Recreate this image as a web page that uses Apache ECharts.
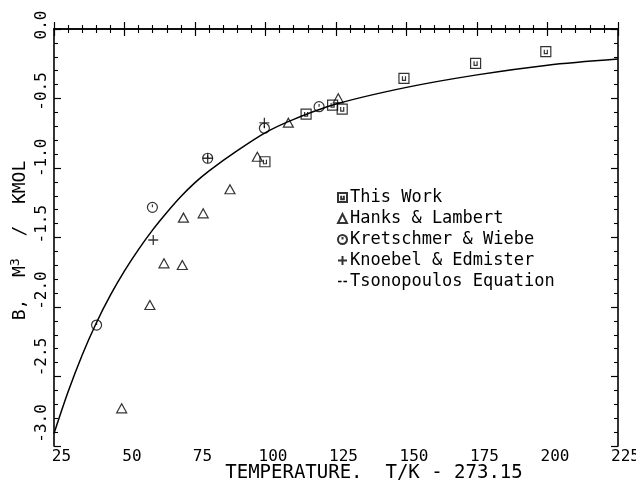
<!DOCTYPE html>
<html><head><meta charset="utf-8">
<script src="https://cdn.jsdelivr.net/npm/echarts@6/dist/echarts.min.js"></script>
<style>html,body{margin:0;padding:0;background:#fff}#c{width:636px;height:483px}</style>
</head><body><div id="c"></div>
<script>
// ---- data ----
const thisWorkT = [99.8, 114.4, 123.8, 127.2, 149.1, 174.5, 199.4];
const thisWorkB = [-0.955, -0.612, -0.547, -0.576, -0.355, -0.247, -0.163];

const hanksT = [49.0, 59.0, 64.0, 70.5, 70.9, 77.9, 87.4, 97.1, 108.1, 125.8];
const hanksB = [-2.729, -1.986, -1.686, -1.698, -1.357, -1.326, -1.153, -0.919, -0.674, -0.499];

const kretT = [40.1, 59.9, 79.5, 99.6, 119.0];
const kretB = [-2.13, -1.283, -0.93, -0.714, -0.559];

const knoeT = [60.2, 79.5, 99.6];
const knoeB = [-1.518, -0.93, -0.675];

const curveT = [25, 30, 35, 40, 45, 50, 55, 60, 65, 70, 75, 80, 90, 100, 110, 125, 150, 175, 200, 225];
const curveB = [-2.91, -2.61, -2.345, -2.115, -1.915, -1.74, -1.585, -1.445, -1.32, -1.205, -1.105, -1.02, -0.875, -0.745, -0.65, -0.54, -0.42, -0.33, -0.26, -0.216];

const xTicks = [25, 50, 75, 100, 125, 150, 175, 200, 225];
const yTicks = [0.0, -0.5, -1.0, -1.5, -2.0, -2.5, -3.0];
const seriesNames = ['This Work', 'Hanks & Lambert', 'Kretschmer & Wiebe', 'Knoebel & Edmister', 'Tsonopoulos Equation'];
const xTitle = 'TEMPERATURE.  T/K - 273.15';

// ---- build ----
const pairs = (a, b) => a.map((v, i) => [v, b[i]]);
const FONT = 'DejaVu Sans Mono';
const sqPath = 'path://M0,0H10V10H0Z M3.5,3V7H6.5V3';
const circPath = 'path://M5,0A5,5 0 1 1 4.99,0Z M5,2.2V5';
const plusPath = 'path://M5,0V10M0,5H10';
const dashPath = 'path://M0,4.3H4V5.7H0Z M6,4.3H10V5.7H6Z';
const open = {color: 'transparent', borderColor: '#000', borderWidth: 1.2};

// y tick labels drift upward in the scanned original; per-label rich styles reproduce it
const yRich = {};
yTicks.forEach((t, i) => {
  yRich['p' + i] = {fontFamily: 'DejaVu Sans Mono', fontSize: 16, color: '#000', padding: [0, 0, 0, 2 * (4 + i * 3.1)]};
});

const chart = echarts.init(document.getElementById('c'), null, {renderer: 'canvas'});
const axisCommon = {
  axisLine: {show: true, lineStyle: {color: '#000', width: 1.6}},
  axisTick: {show: true, inside: true, length: 7, lineStyle: {color: '#000', width: 1.2}},
  minorTick: {show: true, splitNumber: 5, length: 4, lineStyle: {color: '#000', width: 1.1}},
  splitLine: {show: false}
};
chart.setOption({
  animation: false,
  backgroundColor: '#fff',
  grid: {left: 54, right: 18, top: 29, bottom: 37, containLabel: false, outerBoundsMode: 'none'},
  xAxis: [
    Object.assign({type: 'value', min: 25, max: 225, interval: 25, position: 'bottom',
      axisLabel: {show: true, margin: 3, color: '#000', fontFamily: FONT, fontSize: 16,
        padding: [0, 0, 0, 15],
        formatter: v => xTicks.includes(v) ? String(v) : ''},
      name: xTitle, nameLocation: 'middle', nameGap: 18, nameMoveOverlap: false,
      nameTextStyle: {color: '#000', fontFamily: FONT, fontSize: 19, padding: [0, 0, 0, 76]}
    }, axisCommon),
    Object.assign({type: 'value', min: 25, max: 225, interval: 25, position: 'top',
      axisLabel: {show: false}}, axisCommon)
  ],
  yAxis: [
    Object.assign({type: 'value', min: -3.0, max: 0.0, interval: 0.5, position: 'left',
      axisLabel: {show: true, rotate: 90, margin: 4, color: '#000', fontFamily: FONT, fontSize: 16,
        alignMinLabel: 'center', alignMaxLabel: 'center',
        rich: yRich,
        formatter: v => {
          const i = yTicks.findIndex(t => Math.abs(t - v) < 1e-9);
          return i < 0 ? '' : '{p' + i + '|' + v.toFixed(1) + '}';
        }},
      name: 'B,  M{s|3}  /  KMOL', nameLocation: 'middle', nameGap: 23, nameRotate: 90, nameMoveOverlap: false,
      nameTextStyle: {color: '#000', fontFamily: FONT, fontSize: 18, padding: [0, 6, 0, 0],
        rich: {s: {fontFamily: FONT, fontSize: 13, verticalAlign: 'bottom', padding: [0, 0, 9, 0]}}}
    }, axisCommon),
    Object.assign({type: 'value', min: -3.0, max: 0.0, interval: 0.5, position: 'right',
      axisLabel: {show: false}}, axisCommon)
  ],
  legend: {
    orient: 'vertical', left: 332, top: 184, itemGap: 4, itemWidth: 9, itemHeight: 9,
    textStyle: {color: '#000', fontFamily: FONT, fontSize: 17, padding: [0, 0, 0, -2]},
    data: [
      {name: seriesNames[0], icon: sqPath},
      {name: seriesNames[1], icon: 'triangle'},
      {name: seriesNames[2], icon: circPath},
      {name: seriesNames[3], icon: plusPath},
      {name: seriesNames[4], icon: dashPath, itemStyle: {color: '#000'}}
    ]
  },
  series: [
    {name: seriesNames[4], type: 'line', data: pairs(curveT, curveB), smooth: 0.3, showSymbol: false,
      lineStyle: {color: '#000', width: 1.5}, itemStyle: {color: '#000'}, z: 2},
    {name: seriesNames[0], type: 'scatter', data: pairs(thisWorkT, thisWorkB), symbol: sqPath, symbolSize: 10,
      itemStyle: open, z: 3},
    {name: seriesNames[1], type: 'scatter', data: pairs(hanksT, hanksB), symbol: 'triangle', symbolSize: [10, 9],
      itemStyle: open, z: 3},
    {name: seriesNames[2], type: 'scatter', data: pairs(kretT, kretB), symbol: circPath, symbolSize: 10,
      itemStyle: open, z: 3},
    {name: seriesNames[3], type: 'scatter', data: pairs(knoeT, knoeB), symbol: plusPath, symbolSize: 10,
      itemStyle: {color: 'transparent', borderColor: '#000', borderWidth: 1.3}, z: 3}
  ]
});
</script></body></html>
